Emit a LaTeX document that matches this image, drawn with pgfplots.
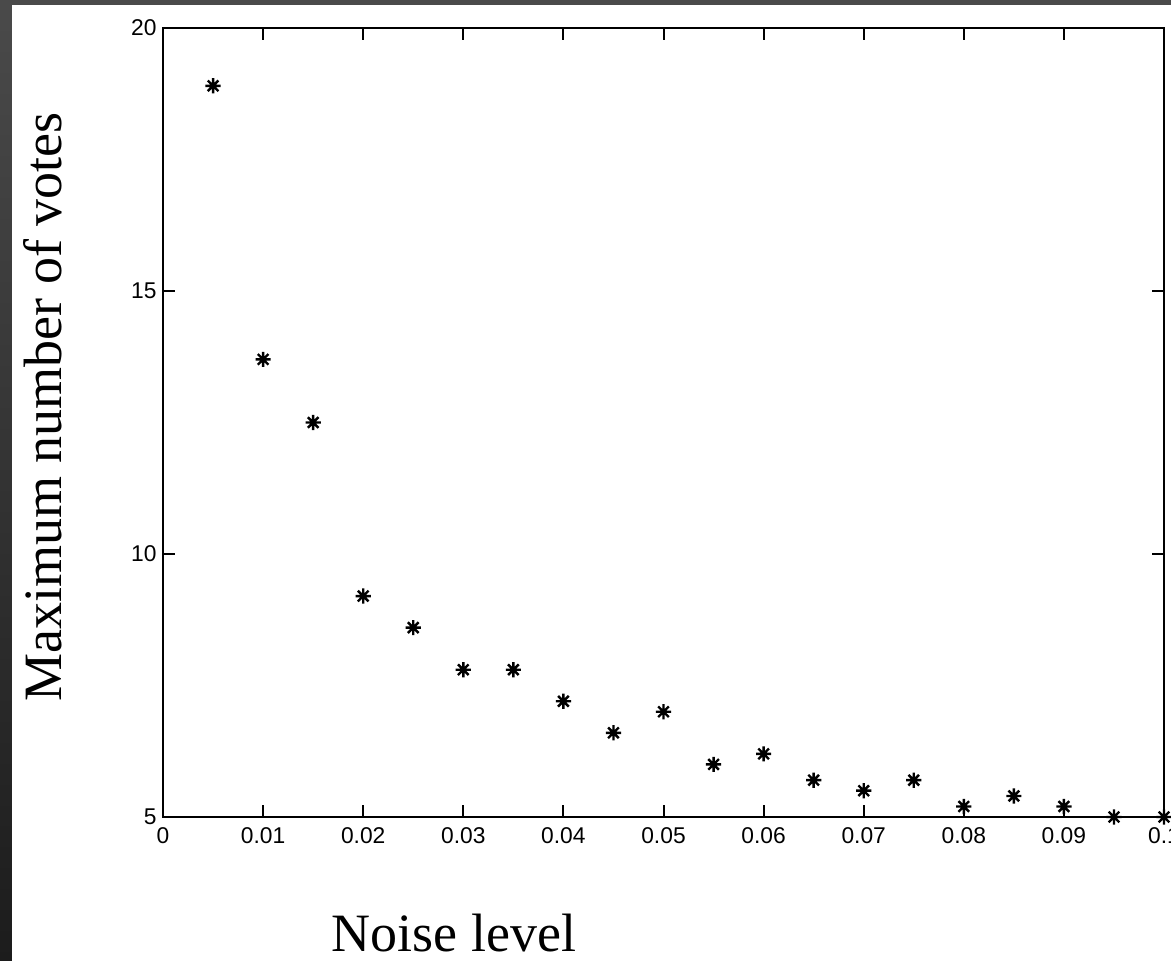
\documentclass[border=0pt]{standalone}
\usepackage{fontspec}
\setmainfont{Liberation Serif}
\newfontfamily\helv{Liberation Sans}
\usepackage{pgfplots}
\pgfplotsset{compat=1.18}

% matlab style '*' marker: plus and cross on top of each other
\pgfdeclareplotmark{mstar}{%
  \pgfpathmoveto{\pgfqpoint{-\pgfplotmarksize}{0pt}}%
  \pgfpathlineto{\pgfqpoint{\pgfplotmarksize}{0pt}}%
  \pgfpathmoveto{\pgfqpoint{0pt}{-\pgfplotmarksize}}%
  \pgfpathlineto{\pgfqpoint{0pt}{\pgfplotmarksize}}%
  \pgfpathmoveto{\pgfqpoint{-0.7\pgfplotmarksize}{-0.7\pgfplotmarksize}}%
  \pgfpathlineto{\pgfqpoint{0.7\pgfplotmarksize}{0.7\pgfplotmarksize}}%
  \pgfpathmoveto{\pgfqpoint{-0.7\pgfplotmarksize}{0.7\pgfplotmarksize}}%
  \pgfpathlineto{\pgfqpoint{0.7\pgfplotmarksize}{-0.7\pgfplotmarksize}}%
  \pgfusepathqstroke}

\begin{document}
\begin{tikzpicture}
\path[use as bounding box] (-81.5pt,-72pt) rectangle (504pt,408.5pt);
\clip (-81.5pt,-72pt) rectangle (504pt,408.5pt);
\shade[top color=black!71, bottom color=black!89] (-81.5pt,-72pt) rectangle (504pt,408.5pt);
\fill[white] (-75.5pt,-72pt) rectangle (504pt,406pt);
\begin{axis}[
    at={(0,0)}, anchor=south west,
    scale only axis,
    width=500.5pt, height=394.5pt,
    xmin=0, xmax=0.1, ymin=5, ymax=20,
    xtick={0,0.01,0.02,0.03,0.04,0.05,0.06,0.07,0.08,0.09,0.1},
    xticklabels={0,0.01,0.02,0.03,0.04,0.05,0.06,0.07,0.08,0.09,0.1},
    ytick={5,10,15,20},
    scaled x ticks=false,
    xtick pos=both, ytick pos=both,
    tick align=inside,
    major tick length=6pt,
    axis line style={line width=1pt},
    every tick/.style={line width=1pt, black},
    ticklabel style={font=\helv\fontsize{11.4}{13}\selectfont, inner sep=0pt},
    /pgf/number format/assume math mode=true,
    xticklabel style={anchor=north, yshift=-5pt},
    yticklabel style={anchor=east, xshift=-3pt},
    label style={font=\fontsize{27}{32}\selectfont},
    xlabel={Noise level},
    xlabel style={at={(0.2907,-0.1711)}, anchor=base},
    ylabel={Maximum number of votes},
    ylabel style={at={(-0.1009,0.5197)}, anchor=base, rotate=0},
    clip=false,
]
\addplot[only marks, mark=mstar, mark size=3.8pt, line width=1.2pt, black] coordinates {
(0.005,18.9) (0.010,13.7) (0.015,12.5) (0.020,9.2) (0.025,8.6)
(0.030,7.8) (0.035,7.8) (0.040,7.2) (0.045,6.6) (0.050,7.0)
(0.055,6.0) (0.060,6.2) (0.065,5.7) (0.070,5.5) (0.075,5.7)
(0.080,5.2) (0.085,5.4) (0.090,5.2) (0.095,5.0) (0.100,5.0)
};
\end{axis}
\end{tikzpicture}
\end{document}
